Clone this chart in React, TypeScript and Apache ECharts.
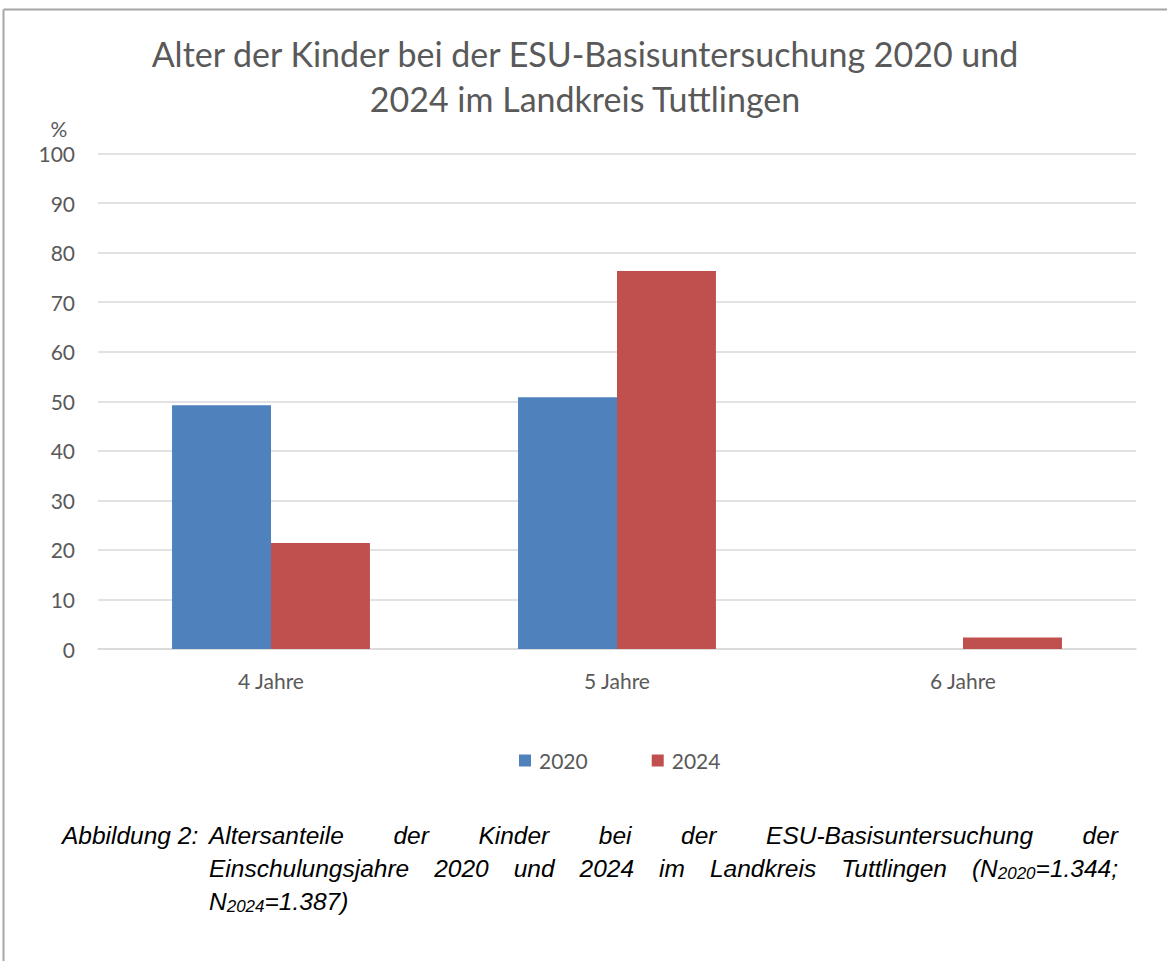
import React, { useEffect, useRef } from "react";
import * as echarts from "echarts";

const categories = ["4 Jahre", "5 Jahre", "6 Jahre"];
const seriesNames = ["2020", "2024"];
const values2020 = [49.2, 50.8, 0];
const values2024 = [21.4, 76.3, 2.3];
const seriesColors = ["#4F81BD", "#C0504D"];
const yMin = 0;
const yMax = 100;
const yInterval = 10;
const yUnit = "%";
const titleText = "Alter der Kinder bei der ESU-Basisuntersuchung 2020 und\n2024 im Landkreis Tuttlingen";
const captionLabel = "Abbildung 2:";
// words per caption line; _{...} marks subscript
const captionLines = [
  "Altersanteile der Kinder bei der ESU-Basisuntersuchung der",
  "Einschulungsjahre 2020 und 2024 im Landkreis Tuttlingen (N_{2020}=1.344;",
  "N_{2024}=1.387)",
];
const captionJustify = [true, true, false];

const CHART_FONT = "Lato, 'Open Sans', sans-serif";
const TEXT_GRAY = "#595959";

export default function App() {
  const ref = useRef<HTMLDivElement>(null);
  useEffect(() => {
    const chart = echarts.init(ref.current!, null, { renderer: "svg" });
    const ctx = document.createElement("canvas").getContext("2d")!;
    const capSize = 24.5;
    const subSize = 17;
    const fontOf = (s: number) => `italic ${s}px "Liberation Sans", Arial, sans-serif`;
    const measure = (t: string, s: number) => {
      ctx.font = fontOf(s);
      return ctx.measureText(t).width;
    };
    const parseWord = (w: string) => {
      const segs: { t: string; sub: boolean }[] = [];
      const re = /_\{([^}]*)\}/g;
      let last = 0;
      let m: RegExpExecArray | null;
      while ((m = re.exec(w))) {
        if (m.index > last) segs.push({ t: w.slice(last, m.index), sub: false });
        segs.push({ t: m[1], sub: true });
        last = m.index + m[0].length;
      }
      if (last < w.length) segs.push({ t: w.slice(last), sub: false });
      return segs;
    };

    const graphics: any[] = [];
    // frame (top and left edges)
    graphics.push({
      type: "line",
      shape: { x1: 3.5, y1: 9.5, x2: 1167, y2: 9.5 },
      style: { stroke: "#a6a6a6", lineWidth: 2 },
      silent: true,
    });
    graphics.push({
      type: "line",
      shape: { x1: 3.5, y1: 9.5, x2: 3.5, y2: 961 },
      style: { stroke: "#a6a6a6", lineWidth: 2 },
      silent: true,
    });
    // y unit
    graphics.push({
      type: "text",
      x: 59,
      y: 128,
      style: { text: yUnit, font: `21px ${CHART_FONT}`, fill: TEXT_GRAY, textAlign: "center", textVerticalAlign: "middle" },
    });

    // caption
    const capLeft = 209;
    const capRight = 1118;
    const lineY = [835, 868, 901];
    graphics.push({
      type: "text",
      x: 62,
      y: lineY[0],
      style: { text: captionLabel, font: fontOf(capSize), fill: "#000", textAlign: "left", textVerticalAlign: "middle" },
    });
    captionLines.forEach((line, li) => {
      const words = line.split(" ").map(parseWord);
      const widths = words.map((segs) =>
        segs.reduce((a, s) => a + measure(s.t, s.sub ? subSize : capSize), 0)
      );
      const total = widths.reduce((a, b) => a + b, 0);
      const gap = captionJustify[li] && words.length > 1
        ? (capRight - capLeft - total) / (words.length - 1)
        : measure(" ", capSize);
      let x = capLeft;
      words.forEach((segs, wi) => {
        let sx = x;
        segs.forEach((s) => {
          const size = s.sub ? subSize : capSize;
          graphics.push({
            type: "text",
            x: sx,
            y: lineY[li] + (s.sub ? 5 : 0),
            style: { text: s.t, font: fontOf(size), fill: "#000", textAlign: "left", textVerticalAlign: "middle" },
          });
          sx += measure(s.t, size);
        });
        x += widths[wi] + gap;
      });
    });

    chart.setOption({
      animation: false,
      backgroundColor: "#ffffff",
      title: {
        text: titleText,
        left: 580,
        top: 26,
        textAlign: "center",
        textStyle: { fontFamily: CHART_FONT, fontSize: 34, fontWeight: "normal", color: TEXT_GRAY, lineHeight: 45 },
      },
      legend: {
        data: seriesNames,
        left: 519,
        top: 750,
        padding: 0,
        icon: "rect",
        itemWidth: 12,
        itemHeight: 12,
        itemGap: 64,
        textStyle: { fontFamily: CHART_FONT, fontSize: 21, color: TEXT_GRAY, padding: [0, 0, 0, 3] },
      },
      grid: { left: 98, right: 31, top: 153.5, bottom: 312, containLabel: false },
      xAxis: {
        type: "category",
        data: categories,
        axisLine: { lineStyle: { color: "#D9D9D9", width: 1.5 } },
        axisTick: { show: false },
        axisLabel: { fontFamily: CHART_FONT, fontSize: 21, color: TEXT_GRAY, margin: 21 },
      },
      yAxis: {
        type: "value",
        min: yMin,
        max: yMax,
        interval: yInterval,
        axisLine: { show: false },
        axisTick: { show: false },
        splitLine: { lineStyle: { color: "#D9D9D9", width: 1.5 } },
        axisLabel: { fontFamily: CHART_FONT, fontSize: 21, color: TEXT_GRAY, margin: 23 },
      },
      series: [
        {
          name: seriesNames[0],
          type: "bar",
          data: values2020,
          itemStyle: { color: seriesColors[0] },
          barGap: "0%",
          barCategoryGap: "42.8%",
        },
        {
          name: seriesNames[1],
          type: "bar",
          data: values2024,
          itemStyle: { color: seriesColors[1] },
          barGap: "0%",
          barCategoryGap: "42.8%",
        },
      ],
      graphic: graphics,
    });
    return () => chart.dispose();
  }, []);
  return <div ref={ref} style={{ position: "absolute", left: 0, top: 0, width: 1167, height: 961 }} />;
}
